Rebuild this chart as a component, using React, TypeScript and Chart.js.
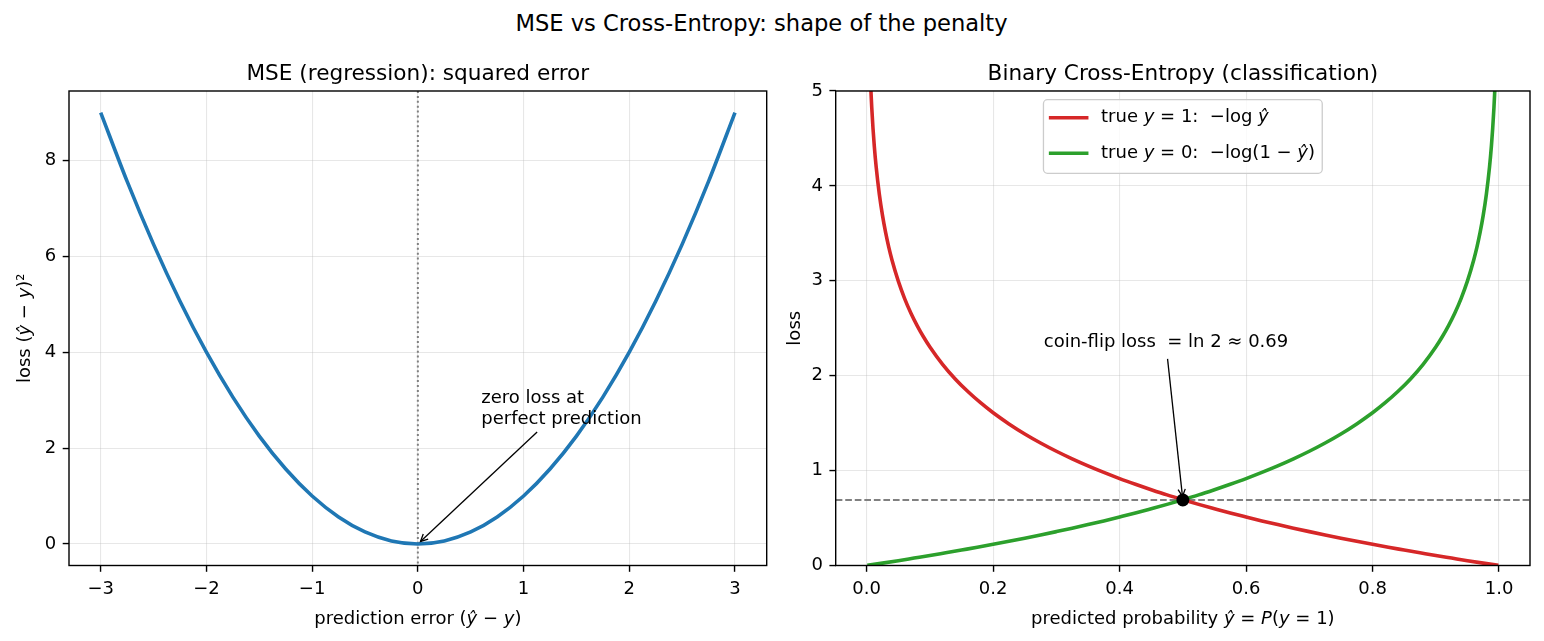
import { useEffect, useRef } from "react";
import { Chart, registerables } from "chart.js";

Chart.register(...registerables);

const FONT = "'DejaVu Sans', 'Liberation Sans', sans-serif";
const BASE = 18; // body text (ticks, labels, legend, notes)
const TITLE = 21.6;
const SUPTITLE = 22.6;

const BLUE = "#1f77b4";
const RED = "#d62728";
const GREEN = "#2ca02c";
const GRID = "rgba(176,176,176,0.3)";

// ---------- left panel: squared error ----------
const ERRORS = [-3, -2.75, -2.5, -2.25, -2, -1.75, -1.5, -1.25, -1, -0.75, -0.5, -0.25, 0, 0.25, 0.5, 0.75, 1, 1.25, 1.5, 1.75, 2, 2.25, 2.5, 2.75, 3];
const SQUARED_LOSS = [9, 7.563, 6.25, 5.063, 4, 3.063, 2.25, 1.563, 1, 0.563, 0.25, 0.063, 0, 0.063, 0.25, 0.563, 1, 1.563, 2.25, 3.063, 4, 5.063, 6.25, 7.563, 9];
const MSE_X_TICKS = [-3, -2, -1, 0, 1, 2, 3];
const MSE_Y_TICKS = [0, 2, 4, 6, 8];
const MSE_X_RANGE = [-3.3, 3.3];
const MSE_Y_RANGE = [-0.45, 9.45];
const PERFECT_ERROR = 0;
const ZERO_NOTE_LINES = ["zero loss at", "perfect prediction"];
const ZERO_NOTE_AT = [0.6, 2.5];

// ---------- right panel: binary cross-entropy ----------
// true y = 1
const P_POSITIVE = [
  0.001, 0.002, 0.003, 0.004, 0.005, 0.006, 0.007, 0.008, 0.01, 0.012, 0.015, 0.02, 0.025, 0.03, 0.035, 0.04,
  0.05, 0.06, 0.07, 0.08, 0.09, 0.1, 0.12, 0.14, 0.16, 0.18, 0.2, 0.225, 0.25, 0.275, 0.3, 0.325, 0.35, 0.375,
  0.4, 0.425, 0.45, 0.475, 0.5, 0.525, 0.55, 0.575, 0.6, 0.625, 0.65, 0.675, 0.7, 0.725, 0.75, 0.775, 0.8,
  0.825, 0.85, 0.875, 0.9, 0.925, 0.95, 0.975, 0.999,
];
const LOSS_POSITIVE = [
  6.908, 6.215, 5.809, 5.521, 5.298, 5.116, 4.962, 4.828, 4.605, 4.423, 4.2, 3.912, 3.689, 3.507, 3.352, 3.219,
  2.996, 2.813, 2.659, 2.526, 2.408, 2.303, 2.12, 1.966, 1.833, 1.715, 1.609, 1.492, 1.386, 1.291, 1.204, 1.124,
  1.05, 0.981, 0.916, 0.856, 0.799, 0.744, 0.693, 0.644, 0.598, 0.553, 0.511, 0.47, 0.431, 0.393, 0.357, 0.322,
  0.288, 0.255, 0.223, 0.192, 0.163, 0.134, 0.105, 0.078, 0.051, 0.025, 0.001,
];
// true y = 0
const P_NEGATIVE = [
  0.001, 0.025, 0.05, 0.075, 0.1, 0.125, 0.15, 0.175, 0.2, 0.225, 0.25, 0.275, 0.3, 0.325, 0.35, 0.375, 0.4,
  0.425, 0.45, 0.475, 0.5, 0.525, 0.55, 0.575, 0.6, 0.625, 0.65, 0.675, 0.7, 0.725, 0.75, 0.775, 0.8, 0.82,
  0.84, 0.86, 0.88, 0.9, 0.91, 0.92, 0.93, 0.94, 0.95, 0.96, 0.965, 0.97, 0.975, 0.98, 0.985, 0.988, 0.99,
  0.992, 0.993, 0.994, 0.995, 0.996, 0.997, 0.998, 0.999,
];
const LOSS_NEGATIVE = [
  0.001, 0.025, 0.051, 0.078, 0.105, 0.134, 0.163, 0.192, 0.223, 0.255, 0.288, 0.322, 0.357, 0.393, 0.431, 0.47,
  0.511, 0.553, 0.598, 0.644, 0.693, 0.744, 0.799, 0.856, 0.916, 0.981, 1.05, 1.124, 1.204, 1.291, 1.386, 1.492,
  1.609, 1.715, 1.833, 1.966, 2.12, 2.303, 2.408, 2.526, 2.659, 2.813, 2.996, 3.219, 3.352, 3.507, 3.689, 3.912,
  4.2, 4.423, 4.605, 4.828, 4.962, 5.116, 5.298, 5.521, 5.809, 6.215, 6.908,
];
const BCE_X_TICKS = [0, 0.2, 0.4, 0.6, 0.8, 1.0];
const BCE_Y_TICKS = [0, 1, 2, 3, 4, 5];
const BCE_X_RANGE = [-0.049, 1.049];
const BCE_Y_RANGE = [0, 5];
const COIN_P = 0.5;
const COIN_LOSS = 0.69;
const COIN_NOTE_AT = [0.28, 2.3];

type Seg = [string, boolean]; // text, italic

const LEGEND_LABELS: Seg[][] = [
  [["true ", false], ["y", true], [" = 1:  −log ", false], ["ŷ", true]],
  [["true ", false], ["y", true], [" = 0:  −log(1 − ", false], ["ŷ", true], [")", false]],
];
const LEGEND_COLORS = [RED, GREEN];

const MSE_XLABEL: Seg[] = [["prediction error (", false], ["ŷ", true], [" − ", false], ["y", true], [")", false]];
const MSE_YLABEL: Seg[] = [["loss (", false], ["ŷ", true], [" − ", false], ["y", true], [")²", false]];
const BCE_XLABEL: Seg[] = [["predicted probability ", false], ["ŷ", true], [" = ", false], ["P", true], ["(", false], ["y", true], [" = 1)", false]];
const BCE_YLABEL: Seg[] = [["loss", false]];

// ---------- layout (px) ----------
const AREA_TOP = 91;
const AREA_BOTTOM = 565.5;
const PAGE_H = 641;
const LEFT_W = 770;
const RIGHT_W = 774;
const LABEL_BASELINE = 624;
const TITLE_BASELINE = 80;

function fontOf(size: number, italic = false) {
  return `${italic ? "italic " : ""}${size}px ${FONT}`;
}

function segWidth(ctx: CanvasRenderingContext2D, segs: Seg[], size: number) {
  let w = 0;
  for (const [t, it] of segs) {
    ctx.font = fontOf(size, it);
    w += ctx.measureText(t).width;
  }
  return w;
}

function drawSegs(ctx: CanvasRenderingContext2D, segs: Seg[], x: number, y: number, size: number, align: "left" | "center") {
  const w = segWidth(ctx, segs, size);
  let cx = align === "center" ? x - w / 2 : x;
  ctx.textAlign = "left";
  for (const [t, it] of segs) {
    ctx.font = fontOf(size, it);
    ctx.fillText(t, cx, y);
    cx += ctx.measureText(t).width;
  }
}

function drawArrowFromBox(
  ctx: CanvasRenderingContext2D,
  box: { l: number; r: number; t: number; b: number },
  tx: number,
  ty: number
) {
  const cx = (box.l + box.r) / 2;
  const cy = (box.t + box.b) / 2;
  const dx = tx - cx;
  const dy = ty - cy;
  const tX = dx !== 0 ? ((dx > 0 ? box.r : box.l) - cx) / dx : Infinity;
  const tY = dy !== 0 ? ((dy > 0 ? box.b : box.t) - cy) / dy : Infinity;
  const te = Math.min(tX, tY);
  const len = Math.hypot(dx, dy);
  const ux = dx / len;
  const uy = dy / len;
  const shrink = 3.6;
  const x0 = cx + dx * te + ux * shrink;
  const y0 = cy + dy * te + uy * shrink;
  const x1 = tx - ux * shrink;
  const y1 = ty - uy * shrink;
  const hl = 7.2;
  const hw = 3.6;
  ctx.save();
  ctx.strokeStyle = "#000";
  ctx.lineWidth = 1.3;
  ctx.beginPath();
  ctx.moveTo(x0, y0);
  ctx.lineTo(x1, y1);
  ctx.stroke();
  ctx.beginPath();
  ctx.moveTo(x1 - hl * ux - hw * uy, y1 - hl * uy + hw * ux);
  ctx.lineTo(x1, y1);
  ctx.lineTo(x1 - hl * ux + hw * uy, y1 - hl * uy - hw * ux);
  ctx.stroke();
  ctx.restore();
}

function axis(range: number[], ticks: number[], fmt: (v: number) => string, fit: (s: any) => void) {
  return {
    type: "linear" as const,
    min: range[0],
    max: range[1],
    afterBuildTicks: (s: any) => {
      s.ticks = ticks.map((value) => ({ value }));
    },
    afterFit: fit,
    grid: {
      color: GRID,
      lineWidth: 1.1,
      drawTicks: true,
      tickLength: 6.3,
      tickColor: "#000",
      tickWidth: 1.4,
    },
    border: { display: false },
    ticks: {
      color: "#000",
      font: { family: FONT, size: BASE },
      padding: 6.5,
      autoSkip: false,
      maxRotation: 0,
      callback: (v: any) => fmt(Number(v)),
    },
  };
}

const signed = (v: number) => (v < 0 ? `−${-v}` : `${v}`);

// frame, titles and axis labels shared by both panels
function framePlugin(title: string, xLabel: Seg[], yLabel: Seg[], yLabelX: number) {
  return {
    id: "frame",
    afterDraw(chart: any) {
      const { ctx, chartArea: a } = chart;
      ctx.save();
      ctx.strokeStyle = "#000";
      ctx.lineWidth = 1.4;
      ctx.strokeRect(a.left, a.top, a.right - a.left, a.bottom - a.top);
      ctx.fillStyle = "#000";
      ctx.textBaseline = "alphabetic";
      ctx.font = fontOf(TITLE);
      ctx.textAlign = "center";
      ctx.fillText(title, (a.left + a.right) / 2, TITLE_BASELINE);
      drawSegs(ctx, xLabel, (a.left + a.right) / 2, LABEL_BASELINE, BASE, "center");
      ctx.translate(yLabelX, (a.top + a.bottom) / 2);
      ctx.rotate(-Math.PI / 2);
      ctx.textBaseline = "middle";
      drawSegs(ctx, yLabel, 0, 0, BASE, "center");
      ctx.restore();
    },
  };
}

function curve(label: string, xs: number[], ys: number[], color: string, order: number) {
  return {
    label,
    data: xs.map((x, i) => ({ x, y: ys[i] })),
    showLine: true,
    borderColor: color,
    borderWidth: 3.6,
    pointRadius: 0,
    cubicInterpolationMode: "monotone",
    capBezierPoints: false,
    clip: 0,
    order,
  };
}

function mseConfig(): any {
  return {
    type: "scatter",
    data: {
      datasets: [curve("squared error", ERRORS, SQUARED_LOSS, BLUE, 0)],
    },
    options: {
      responsive: false,
      animation: false,
      devicePixelRatio: 1,
      events: [],
      layout: { autoPadding: false, padding: { left: 0, right: LEFT_W - 766.7, top: AREA_TOP, bottom: 0 } },
      plugins: { legend: { display: false }, tooltip: { enabled: false }, title: { display: false } },
      scales: {
        x: { position: "bottom", ...axis(MSE_X_RANGE, MSE_X_TICKS, signed, (s: any) => { s.height = PAGE_H - AREA_BOTTOM; }) },
        y: { position: "left", ...axis(MSE_Y_RANGE, MSE_Y_TICKS, signed, (s: any) => { s.width = 69; }) },
      },
    },
    plugins: [
      {
        id: "perfectLine",
        beforeDatasetsDraw(chart: any) {
          const { ctx, chartArea: a, scales } = chart;
          const px = scales.x.getPixelForValue(PERFECT_ERROR);
          ctx.save();
          ctx.strokeStyle = "#808080";
          ctx.lineWidth = 2;
          ctx.setLineDash([2, 2.9]);
          ctx.beginPath();
          ctx.moveTo(px, a.top);
          ctx.lineTo(px, a.bottom);
          ctx.stroke();
          ctx.restore();
        },
        afterDatasetsDraw(chart: any) {
          const { ctx, scales } = chart;
          const ax = scales.x.getPixelForValue(ZERO_NOTE_AT[0]);
          const ay = scales.y.getPixelForValue(ZERO_NOTE_AT[1]);
          const lh = BASE * 1.2;
          ctx.save();
          ctx.fillStyle = "#000";
          ctx.font = fontOf(BASE);
          ctx.textAlign = "left";
          ctx.textBaseline = "alphabetic";
          let w = 0;
          const n = ZERO_NOTE_LINES.length;
          ZERO_NOTE_LINES.forEach((line, i) => {
            ctx.fillText(line, ax, ay - (n - 1 - i) * lh);
            w = Math.max(w, ctx.measureText(line).width);
          });
          ctx.restore();
          drawArrowFromBox(
            ctx,
            { l: ax, r: ax + w, t: ay - (n - 1) * lh - 0.76 * BASE, b: ay + 0.3 * BASE },
            scales.x.getPixelForValue(PERFECT_ERROR),
            scales.y.getPixelForValue(0)
          );
        },
      },
      framePlugin("MSE (regression): squared error", MSE_XLABEL, MSE_YLABEL, 25),
    ],
  };
}

function bceConfig(): any {
  return {
    type: "scatter",
    data: {
      datasets: [
        {
          label: "ln 2",
          data: [{ x: COIN_P, y: COIN_LOSS }],
          pointRadius: 6.5,
          pointBackgroundColor: "#000",
          pointBorderWidth: 0,
          order: 0,
        },
        curve("true y = 0: −log(1 − ŷ)", P_NEGATIVE, LOSS_NEGATIVE, GREEN, 1),
        curve("true y = 1: −log ŷ", P_POSITIVE, LOSS_POSITIVE, RED, 2),
      ],
    },
    options: {
      responsive: false,
      animation: false,
      devicePixelRatio: 1,
      events: [],
      layout: { autoPadding: false, padding: { left: 0, right: 14, top: AREA_TOP, bottom: 0 } },
      plugins: { legend: { display: false }, tooltip: { enabled: false }, title: { display: false } },
      scales: {
        x: { position: "bottom", ...axis(BCE_X_RANGE, BCE_X_TICKS, (v) => v.toFixed(1), (s: any) => { s.height = PAGE_H - AREA_BOTTOM; }) },
        y: { position: "left", ...axis(BCE_Y_RANGE, BCE_Y_TICKS, (v) => `${v}`, (s: any) => { s.width = 65.7; }) },
      },
    },
    plugins: [
      {
        id: "coinFlip",
        beforeDatasetsDraw(chart: any) {
          const { ctx, chartArea: a, scales } = chart;
          const py = scales.y.getPixelForValue(COIN_LOSS);
          ctx.save();
          ctx.strokeStyle = "#808080";
          ctx.lineWidth = 1.8;
          ctx.setLineDash([6.66, 2.88]);
          ctx.beginPath();
          ctx.moveTo(a.left, py);
          ctx.lineTo(a.right, py);
          ctx.stroke();
          ctx.restore();
        },
        afterDatasetsDraw(chart: any) {
          const { ctx, scales } = chart;
          const ax = scales.x.getPixelForValue(COIN_NOTE_AT[0]);
          const ay = scales.y.getPixelForValue(COIN_NOTE_AT[1]);
          const text = `coin-flip loss  = ln 2 ≈ ${COIN_LOSS.toFixed(2)}`;
          ctx.save();
          ctx.fillStyle = "#000";
          ctx.font = fontOf(BASE);
          ctx.textAlign = "left";
          ctx.textBaseline = "alphabetic";
          ctx.fillText(text, ax, ay);
          const w = ctx.measureText(text).width;
          ctx.restore();
          drawArrowFromBox(
            ctx,
            { l: ax, r: ax + w, t: ay - 0.76 * BASE, b: ay + 0.45 * BASE },
            scales.x.getPixelForValue(COIN_P),
            scales.y.getPixelForValue(COIN_LOSS)
          );
        },
      },
      {
        id: "mathLegend",
        afterDraw(chart: any) {
          const { ctx, chartArea: a } = chart;
          const pad = 0.4 * BASE;
          const handle = 2 * BASE;
          const gap = 0.8 * BASE;
          const textW = Math.max(...LEGEND_LABELS.map((segs) => segWidth(ctx, segs, BASE)));
          const boxW = pad + handle + gap + textW + pad;
          const boxH = 73.6;
          const boxL = (a.left + a.right) / 2 - boxW / 2;
          const boxT = a.top + 8.7;
          ctx.save();
          ctx.fillStyle = "rgba(255,255,255,0.8)";
          ctx.strokeStyle = "#cccccc";
          ctx.lineWidth = 1.3;
          ctx.beginPath();
          ctx.roundRect(boxL, boxT, boxW, boxH, 4);
          ctx.fill();
          ctx.stroke();
          LEGEND_LABELS.forEach((segs, i) => {
            const cy = boxT + 18 + i * 35.6;
            ctx.strokeStyle = LEGEND_COLORS[i];
            ctx.lineWidth = 3.6;
            ctx.lineCap = "square";
            ctx.beginPath();
            ctx.moveTo(boxL + pad, cy);
            ctx.lineTo(boxL + pad + handle, cy);
            ctx.stroke();
            ctx.fillStyle = "#000";
            ctx.textBaseline = "middle";
            drawSegs(ctx, segs, boxL + pad + handle + gap, cy, BASE, "left");
          });
          ctx.restore();
        },
      },
      framePlugin("Binary Cross-Entropy (classification)", BCE_XLABEL, BCE_YLABEL, 25),
    ],
  };
}

export default function App() {
  const leftRef = useRef<HTMLCanvasElement>(null);
  const rightRef = useRef<HTMLCanvasElement>(null);

  useEffect(() => {
    const left = new Chart(leftRef.current!, mseConfig());
    const right = new Chart(rightRef.current!, bceConfig());
    return () => {
      left.destroy();
      right.destroy();
    };
  }, []);

  return (
    <div style={{ position: "absolute", left: 0, top: 0, width: 1544, height: PAGE_H, background: "#fff", overflow: "hidden" }}>
      <div
        style={{
          position: "absolute",
          left: 0,
          top: 10.4,
          width: 1523,
          textAlign: "center",
          font: `${SUPTITLE}px ${FONT}`,
          lineHeight: "26px",
          color: "#000",
        }}
      >
        MSE vs Cross-Entropy: shape of the penalty
      </div>
      <canvas
        ref={leftRef}
        width={LEFT_W}
        height={PAGE_H}
        style={{ position: "absolute", left: 0, top: 0, width: LEFT_W, height: PAGE_H }}
      />
      <canvas
        ref={rightRef}
        width={RIGHT_W}
        height={PAGE_H}
        style={{ position: "absolute", left: LEFT_W, top: 0, width: RIGHT_W, height: PAGE_H }}
      />
    </div>
  );
}
